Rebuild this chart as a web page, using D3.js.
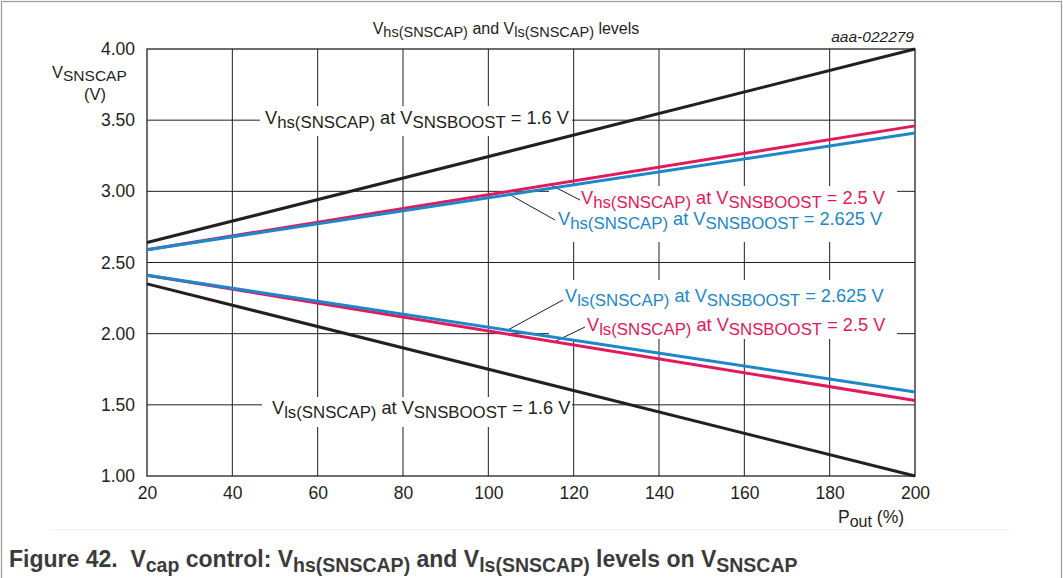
<!DOCTYPE html>
<html>
<head>
<meta charset="utf-8">
<script src="https://cdn.jsdelivr.net/npm/d3@7"></script>
<style>
  html, body { margin: 0; padding: 0; background: #fff; }
  svg { display: block; font-family: "Liberation Sans", Arial, sans-serif; }
</style>
</head>
<body>
<svg id="chart" width="1063" height="578"></svg>
<script>
// Output power (%) at the two ends of each characteristic
const pout = [20, 200];

// Threshold levels in volts at each pout point
const vhs16 = [2.64, 4.00];
const vhs25 = [2.59, 3.46];
const vhs2625 = [2.59, 3.41];
const vls2625 = [2.41, 1.59];
const vls25 = [2.41, 1.53];
const vls16 = [2.35, 1.00];

const xTicks = [20, 40, 60, 80, 100, 120, 140, 160, 180, 200];
const yTicks = [1.00, 1.50, 2.00, 2.50, 3.00, 3.50, 4.00];

const INK = "#231f20";
const RED = "#e2195b";
const BLUE = "#1d87c9";

const svg = d3.select("#chart");
const W = 1063, H = 578;

// outer frame
svg.append("rect").attr("x", 1.5).attr("y", 1.5).attr("width", W - 3).attr("height", H + 10)
  .attr("fill", "none").attr("stroke", "#9a9a9a").attr("stroke-width", 1.2);
svg.append("line").attr("x1", 50).attr("x2", 1010).attr("y1", 529.5).attr("y2", 529.5)
  .attr("stroke", "#f1f1f1").attr("stroke-width", 1);

const plot = { left: 147, right: 915, top: 49, bottom: 476 };
const x = d3.scaleLinear().domain([20, 200]).range([plot.left, plot.right]);
const y = d3.scaleLinear().domain([1, 4]).range([plot.bottom, plot.top]);

// text with subscript runs: parts = [[text, isSub], ...]
function richText(g, parts, opts) {
  const t = g.append("text")
    .attr("x", opts.x).attr("y", opts.y)
    .attr("fill", opts.color || INK)
    .attr("font-size", opts.size)
    .attr("font-weight", opts.weight || "normal")
    .attr("font-style", opts.style || "normal")
    .attr("text-anchor", opts.anchor || "start");
  let shifted = false;
  const subShift = opts.subShift || opts.size * 0.28;
  parts.forEach(([s, sub]) => {
    const ts = t.append("tspan").text(s).style("white-space", "pre");
    if (sub) {
      ts.attr("font-size", opts.subSize || opts.size * 0.88);
      if (!shifted) { ts.attr("dy", subShift); shifted = true; }
    } else {
      if (shifted) { ts.attr("dy", -subShift); shifted = false; }
    }
  });
  return t;
}

// point on a two-point characteristic at a given pout
function at(v, p) { return [x(p), y(v[0] + (v[1] - v[0]) * (p - pout[0]) / (pout[1] - pout[0]))]; }

// grid
const grid = svg.append("g");
grid.selectAll("line.v").data(xTicks.slice(1, -1)).join("line")
  .attr("x1", d => x(d)).attr("x2", d => x(d))
  .attr("y1", plot.top).attr("y2", plot.bottom)
  .attr("stroke", INK).attr("stroke-width", 1);
grid.selectAll("line.h").data(yTicks.slice(1, -1)).join("line")
  .attr("x1", plot.left).attr("x2", plot.right)
  .attr("y1", d => y(d)).attr("y2", d => y(d))
  .attr("stroke", INK).attr("stroke-width", 1);
svg.append("rect").attr("x", plot.left).attr("y", plot.top)
  .attr("width", plot.right - plot.left).attr("height", plot.bottom - plot.top)
  .attr("fill", "none").attr("stroke", INK).attr("stroke-width", 1.3);

// axes tick labels via d3 axes (domain and tick marks hidden)
const xAxis = svg.append("g").attr("transform", `translate(0,${plot.bottom})`)
  .call(d3.axisBottom(x).tickValues(xTicks).tickSize(0).tickPadding(8).tickFormat(d3.format("d")));
const yAxis = svg.append("g").attr("transform", `translate(${plot.left},0)`)
  .call(d3.axisLeft(y).tickValues(yTicks).tickSize(0).tickPadding(12).tickFormat(d3.format(".2f")));
[xAxis, yAxis].forEach(a => {
  a.select(".domain").remove();
  a.selectAll("text").attr("font-size", 17.5).attr("fill", INK)
    .attr("font-family", "'Liberation Sans', Arial, sans-serif");
});
xAxis.selectAll("text").attr("dy", "0.85em");

// label backgrounds
const bg = svg.append("g");
[[260, 106, 312, 30], [262, 397, 310, 30], [549, 186, 348, 56], [549, 280, 348, 59]]
  .forEach(([bx, by, bw, bh]) => bg.append("rect").attr("x", bx).attr("y", by)
    .attr("width", bw).attr("height", bh).attr("fill", "#fff"));

// leader lines
const lead = svg.append("g").attr("stroke", INK).attr("stroke-width", 1);
[
  [[580, 200], at(vhs25, 114.5)],
  [[555, 220], at(vhs2625, 105)],
  [[563, 300], at(vls2625, 104.5)],
  [[585, 327], at(vls25, 115.5)]
].forEach(([a, b]) => lead.append("line")
  .attr("x1", a[0]).attr("y1", a[1]).attr("x2", b[0]).attr("y2", b[1]));

// characteristic lines
const series = [
  { v: vhs16, c: INK }, { v: vls16, c: INK },
  { v: vhs25, c: RED }, { v: vls25, c: RED },
  { v: vhs2625, c: BLUE }, { v: vls2625, c: BLUE }
];
const line = d3.line().x(d => x(d[0])).y(d => y(d[1]));
svg.append("g").selectAll("path").data(series).join("path")
  .attr("d", s => line(pout.map((p, i) => [p, s.v[i]])))
  .attr("fill", "none").attr("stroke", s => s.c).attr("stroke-width", 3);

// curve labels
const lbl = svg.append("g");
const L = 18.2, S = 16.8;
richText(lbl, [["V"], ["hs(SNSCAP)", 1], [" at V"], ["SNSBOOST", 1], [" = 1.6 V"]], { x: 265, y: 124, size: L, subSize: S, subShift: 4 });
richText(lbl, [["V"], ["ls(SNSCAP)", 1], [" at V"], ["SNSBOOST", 1], [" = 1.6 V"]], { x: 272, y: 414, size: L, subSize: S, subShift: 4 });
richText(lbl, [["V"], ["hs(SNSCAP)", 1], [" at V"], ["SNSBOOST", 1], [" = 2.5 V"]], { x: 581, y: 204, size: L, subSize: S, subShift: 4, color: RED });
richText(lbl, [["V"], ["hs(SNSCAP)", 1], [" at V"], ["SNSBOOST", 1], [" = 2.625 V"]], { x: 558, y: 225, size: L, subSize: S, subShift: 4, color: BLUE });
richText(lbl, [["V"], ["ls(SNSCAP)", 1], [" at V"], ["SNSBOOST", 1], [" = 2.625 V"]], { x: 565, y: 302, size: L, subSize: S, subShift: 4, color: BLUE });
richText(lbl, [["V"], ["ls(SNSCAP)", 1], [" at V"], ["SNSBOOST", 1], [" = 2.5 V"]], { x: 587, y: 331, size: L, subSize: S, subShift: 4, color: RED });

// title, id, axis titles
richText(svg, [["V"], ["hs(SNSCAP)", 1], [" and V"], ["ls(SNSCAP)", 1], [" levels"]], { x: 506, y: 34, size: 16, subSize: 14.5, subShift: 3, anchor: "middle" });
svg.append("text").attr("x", 914).attr("y", 42).attr("text-anchor", "end")
  .attr("font-size", 15.5).attr("font-style", "italic").attr("fill", INK).text("aaa-022279");
richText(svg, [["V"], ["SNSCAP", 1]], { x: 52, y: 78, size: 16.5, subSize: 15.5, subShift: 3 });
svg.append("text").attr("x", 95).attr("y", 100).attr("text-anchor", "middle")
  .attr("font-size", 16.5).attr("fill", INK).text("(V)");
richText(svg, [["P"], ["out", 1], [" (%)"]], { x: 838, y: 523, size: 17.5, subSize: 16, subShift: 4 });

// caption
richText(svg, [["Figure 42.  V"], ["cap", 1], [" control: V"], ["hs(SNSCAP)", 1], [" and V"], ["ls(SNSCAP)", 1], [" levels on V"], ["SNSCAP", 1]],
  { x: 9, y: 567, size: 23, subSize: 19.5, subShift: 5, weight: "bold", color: "#3b3b3b" });
</script>
</body>
</html>
